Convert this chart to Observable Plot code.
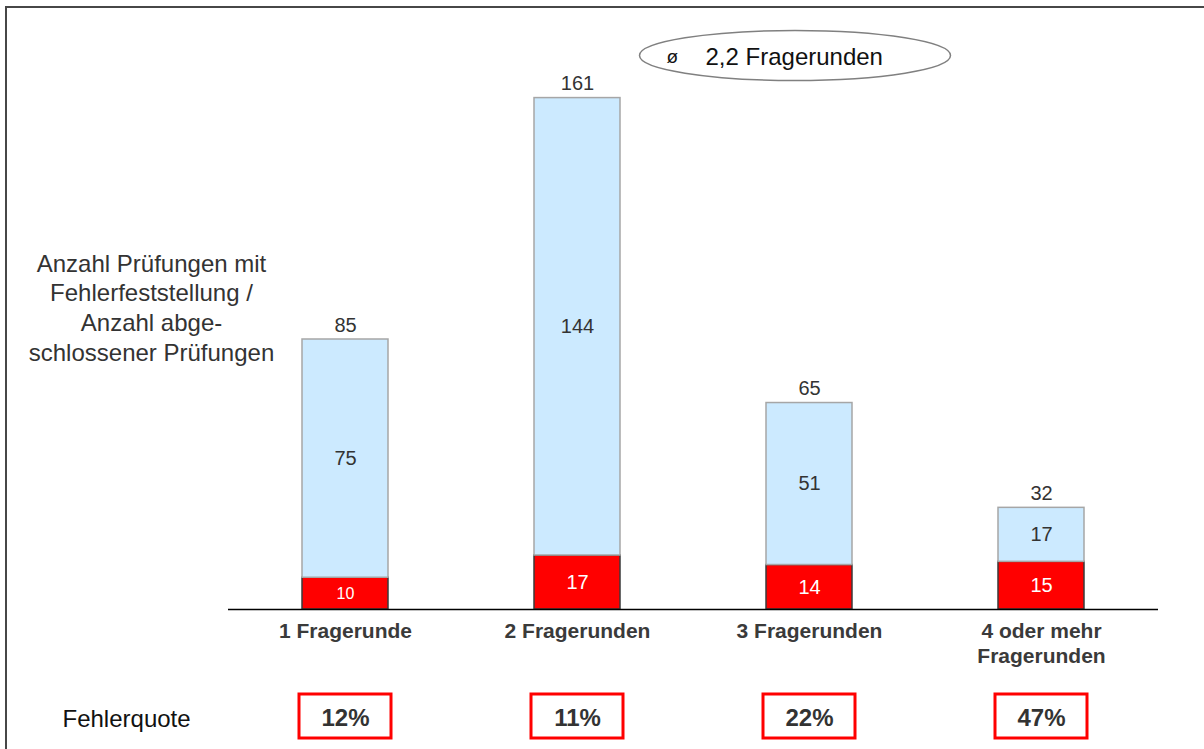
<!DOCTYPE html>
<html>
<head>
<meta charset="utf-8">
<script src="https://cdn.jsdelivr.net/npm/d3@7"></script>
<script src="https://cdn.jsdelivr.net/npm/@observablehq/plot@0.6"></script>
<style>
  html, body { margin: 0; padding: 0; background: #fff; }
  #wrap { position: relative; width: 1204px; height: 749px; overflow: hidden; font-family: "Liberation Sans", Arial, sans-serif; }
  #wrap svg { display: block; overflow: visible; background: transparent; }
  #frame { position: absolute; left: 5px; top: 6px; right: -10px; bottom: -10px;
           border-left: 2px solid #474747; border-top: 2px solid #474747; pointer-events: none; }
</style>
</head>
<body>
<div id="wrap"><div id="frame"></div></div>
<script>
// Audit results by number of question rounds
const categories = ["1 Fragerunde", "2 Fragerunden", "3 Fragerunden", "4 oder mehr\nFragerunden"];
const withErrors = [10, 17, 14, 15];        // audits with findings (red)
const withoutErrors = [75, 144, 51, 17];    // remaining completed audits (blue)
const totals = [85, 161, 65, 32];           // completed audits
const errorRates = [12, 11, 22, 47];        // Fehlerquote in %
const averageRounds = "2,2";
const leftLabel = "Anzahl Prüfungen mit\nFehlerfeststellung /\nAnzahl abge-\nschlossener Prüfungen";
const rateLabel = "Fehlerquote";

const rows = categories.map((cat, i) => ({
  cat,
  errors: withErrors[i],
  clean: withoutErrors[i],
  total: totals[i],
  rate: errorRates[i]
}));

const fontFamily = '"Liberation Sans", Arial, sans-serif';
const xScale = {domain: categories, paddingInner: 0.63, paddingOuter: 0.315, axis: null};

// Outline of the "average rounds" callout
const ellipse = {
  draw(ctx) {
    const rx = 155.5, ry = 25, k = 0.5523, kx = rx * k, ky = ry * k;
    ctx.moveTo(rx, 0);
    ctx.bezierCurveTo(rx, ky, kx, ry, 0, ry);
    ctx.bezierCurveTo(-kx, ry, -rx, ky, -rx, 0);
    ctx.bezierCurveTo(-rx, -ky, -kx, -ry, 0, -ry);
    ctx.bezierCurveTo(kx, -ry, rx, -ky, rx, 0);
    ctx.closePath();
  }
};

const main = Plot.plot({
  width: 1204,
  height: 680,
  marginLeft: 228,
  marginRight: 46,
  marginTop: 69,
  marginBottom: 71,
  x: xScale,
  y: {domain: [0, 170], axis: null},
  style: {fontFamily, background: "transparent"},
  marks: [
    Plot.barY(rows, {x: "cat", y1: 0, y2: "errors", fill: "#ff0000", stroke: "#3a3a3a", strokeWidth: 1.5}),
    Plot.barY(rows, {x: "cat", y1: "errors", y2: "total", fill: "#cceaff", stroke: "#a6a6a6", strokeWidth: 1.5}),
    Plot.ruleY([0], {stroke: "#000", strokeWidth: 1.5}),
    // totals above each bar
    Plot.text(rows, {x: "cat", y: "total", text: "total", lineAnchor: "bottom", dy: -8, fontSize: 20, fill: "#333"}),
    // values inside the segments
    Plot.text(rows, {x: "cat", y: d => d.errors + d.clean / 2, text: "clean", fontSize: 20, fill: "#333"}),
    Plot.text(rows, {
      x: "cat", y: d => d.errors / 2, text: "errors", fill: "#fff",
      fontSize: d => (d.errors < 12 ? 16 : 20) // short segments get a smaller label
    }),
    // category labels under the baseline
    Plot.text(rows, {x: "cat", y: 0, text: "cat", lineAnchor: "top", lineHeight: 1.22, dy: 10,
      fontSize: 21, fontWeight: "bold", fill: "#3a3a3a"}),
    // description on the left
    Plot.text([leftLabel], {frameAnchor: "top-left", dx: -77, dy: 181.5, lineAnchor: "top", lineHeight: 1.23,
      textAnchor: "middle", fontSize: 24, fill: "#333"}),
    // average callout
    Plot.dot([averageRounds], {frameAnchor: "top-left", dx: 566.5, dy: -14, symbol: ellipse,
      fill: "none", stroke: "#808080", strokeWidth: 1.5}),
    Plot.text(["ø"], {frameAnchor: "top-left", dx: 438, dy: -13, lineAnchor: "middle",
      fontSize: 19, fill: "#111"}),
    Plot.text([`${averageRounds} Fragerunden`], {frameAnchor: "top-left", dx: 477, dy: -12, lineAnchor: "middle",
      textAnchor: "start", fontSize: 24, fill: "#111"})
  ]
});

const rates = Plot.plot({
  width: 1204,
  height: 69,
  marginLeft: 228,
  marginRight: 46,
  marginTop: 14,
  marginBottom: 11,
  x: xScale,
  style: {fontFamily, background: "transparent"},
  marks: [
    Plot.cell(rows, {x: "cat", fill: "none", stroke: "#ff0000", strokeWidth: 3, insetLeft: -3, insetRight: -3}),
    Plot.text(rows, {x: "cat", text: d => `${d.rate}%`, frameAnchor: "middle", dy: 2,
      fontSize: 24, fontWeight: "bold", fill: "#333"}),
    Plot.text([rateLabel], {frameAnchor: "left", dx: -166, dy: 2.5, textAnchor: "start", fontSize: 24, fill: "#111"})
  ]
});

const wrap = document.getElementById("wrap");
wrap.insertBefore(rates, wrap.firstChild);
wrap.insertBefore(main, rates);
</script>
</body>
</html>
